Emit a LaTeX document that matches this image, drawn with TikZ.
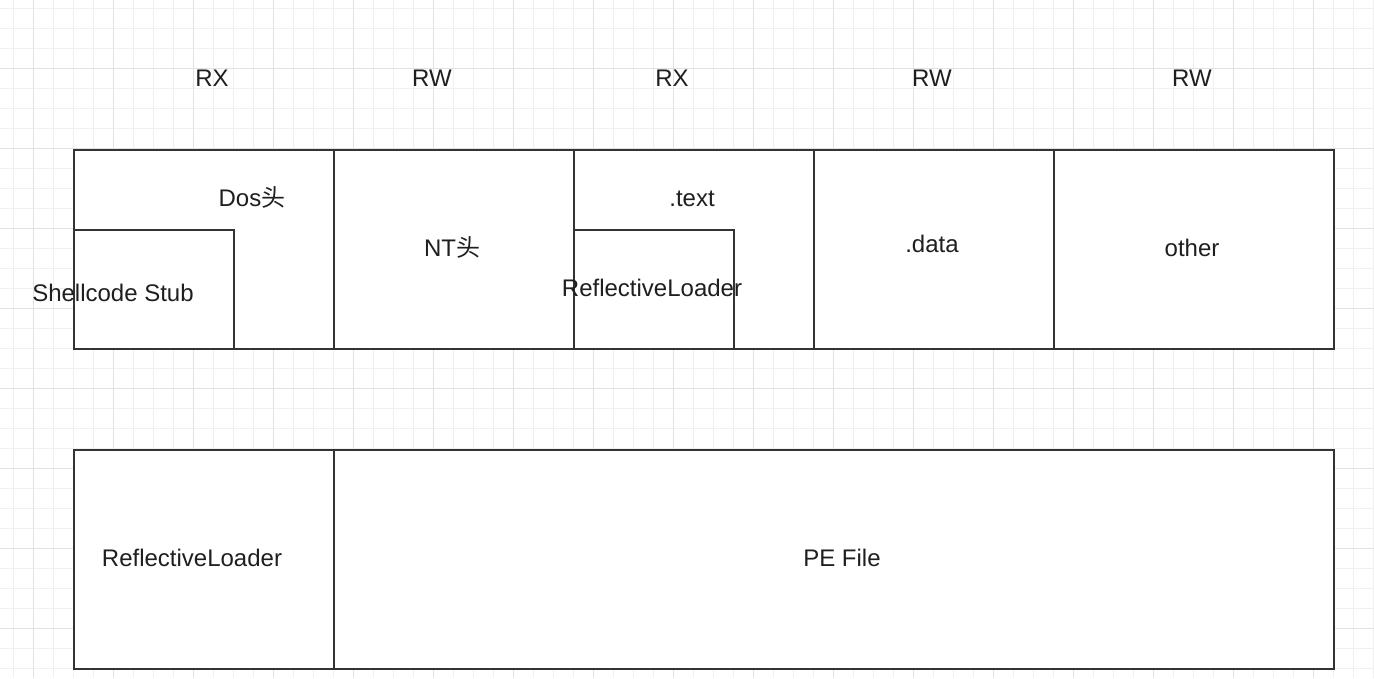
\documentclass[tikz,border=0pt]{standalone}
\usepackage{fontspec}
\setmainfont{Liberation Sans}
\newfontfamily\cjk{Noto Sans CJK SC}
\definecolor{boxline}{HTML}{333333}
\definecolor{gridmin}{HTML}{F0F0F0}
\definecolor{gridmaj}{HTML}{E2E2E2}
\tikzset{
  cell/.style={draw=boxline, line width=2, fill=white, inner sep=0pt, anchor=north west},
  tag/.style={anchor=base, inner sep=0pt, text=black!88, font=\fontsize{24}{28}\selectfont}
}

\begin{document}
\begin{tikzpicture}[x=1pt, y=-1pt]
            \useasboundingbox (0,0) rectangle (1374,678);
            % grid
            \foreach \gx in {13,33,...,1373} \draw [gridmin, line width=1] (\gx,0) -- (\gx,678);
            \foreach \gy in {8,28,...,668} \draw [gridmin, line width=1] (0,\gy) -- (1374,\gy);
            \foreach \gx in {33,113,...,1353} \draw [gridmaj, line width=1] (\gx,0) -- (\gx,678);
            \foreach \gy in {68,148,...,628} \draw [gridmaj, line width=1] (0,\gy) -- (1374,\gy);
            % top row
            \node [cell, minimum width=260, minimum height=199] (dos) at (73,149) {};
            \node [cell, minimum width=240, minimum height=199] (nt) at (333,149) {};
            \node [cell, minimum width=240, minimum height=199] (text) at (573,149) {};
            \node [cell, minimum width=240, minimum height=199] (data) at (813,149) {};
            \node [cell, minimum width=280, minimum height=199] (other) at (1053,149) {};
            \node [cell, minimum width=160, minimum height=119] (stub) at (73,229) {};
            \node [cell, minimum width=160, minimum height=119] (rlin) at (573,229) {};
            % bottom row
            \node [cell, minimum width=260, minimum height=219] (loader) at (73,449) {};
            \node [cell, minimum width=1000, minimum height=219] (pefile) at (333,449) {};
            % labels
            \node [tag] (rx1) at (212,86) {RX};
            \node [tag] (rw1) at (432,86) {RW};
            \node [tag] (rx2) at (672,86) {RX};
            \node [tag] (rw2) at (932,86) {RW};
            \node [tag] (rw3) at (1192,86) {RW};
            \node [tag] (doslbl) at (252,206) {Dos{\cjk 头}};
            \node [tag] (ntlbl) at (452,256) {NT{\cjk 头}};
            \node [tag] (textlbl) at (692,206) {.text};
            \node [tag] (datalbl) at (932,252) {.data};
            \node [tag] (otherlbl) at (1192,256) {other};
            \node [tag] (stublbl) at (113,301) {Shellcode Stub};
            \node [tag] (rllbl) at (652,296) {ReflectiveLoader};
            \node [tag] (loaderlbl) at (192,566) {ReflectiveLoader};
            \node [tag] (pelbl) at (842,566) {PE File};
        \end{tikzpicture}
\end{document}
